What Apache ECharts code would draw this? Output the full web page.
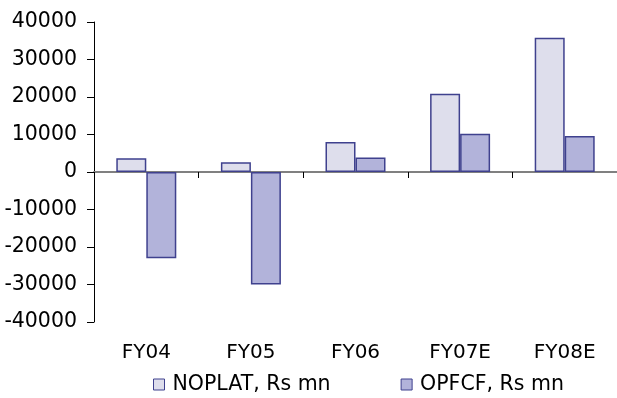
<!DOCTYPE html>
<html>
<head>
<meta charset="utf-8">
<script src="https://cdn.jsdelivr.net/npm/echarts@6/dist/echarts.min.js"></script>
<style>
  html, body { margin: 0; padding: 0; background: #ffffff; }
  #chart { width: 617px; height: 398px; }
</style>
</head>
<body>
<div id="chart"></div>
<script>
// Fiscal years shown on the category axis
const categories = ['FY04', 'FY05', 'FY06', 'FY07E', 'FY08E'];
// Net operating profit less adjusted taxes, Rs mn
const noplat = [3700, 2600, 8000, 20900, 35800];
// Operating free cash flow, Rs mn
const opfcf = [-23000, -30000, 3850, 10200, 9600];
// Value axis range and step
const yMin = -40000;
const yMax = 40000;
const yStep = 10000;

const FONT = '"DejaVu Sans", "Liberation Sans", Arial, sans-serif';
const BORDER = '#3f418e';

const chart = echarts.init(document.getElementById('chart'), null, { renderer: 'canvas' });

chart.setOption({
  animation: false,
  backgroundColor: '#ffffff',
  textStyle: { fontFamily: FONT },
  grid: { left: 94, right: 0, top: 22, bottom: 76, containLabel: false },
  legend: {
    top: 374,
    left: 153,
    padding: 0,
    itemWidth: 11,
    itemHeight: 11,
    itemGap: 70,
    icon: 'rect',
    textStyle: { fontFamily: FONT, fontSize: 20.5, color: '#000000', padding: [0, 0, 0, 3] },
    data: [
      { name: 'NOPLAT, Rs mn', itemStyle: { color: '#dedeec', borderColor: BORDER, borderWidth: 1 } },
      { name: 'OPFCF, Rs mn', itemStyle: { color: '#b2b3da', borderColor: BORDER, borderWidth: 1 } }
    ]
  },
  xAxis: [
    {
      // axis drawn along the zero line, with boundary ticks
      type: 'category',
      data: categories,
      position: 'bottom',
      axisLine: { onZero: true, lineStyle: { color: '#808080', width: 2 } },
      axisTick: { show: true, length: 6, lineStyle: { color: '#000000', width: 1 } },
      axisLabel: { show: false },
      splitLine: { show: false }
    },
    {
      // category names along the bottom of the plot
      type: 'category',
      data: categories,
      position: 'bottom',
      axisLine: { show: false, onZero: false },
      axisTick: { show: false },
      axisLabel: { show: true, margin: 21, fontFamily: FONT, fontSize: 20, color: '#000000' },
      splitLine: { show: false }
    }
  ],
  yAxis: {
    type: 'value',
    min: yMin,
    max: yMax,
    interval: yStep,
    axisLine: { show: true, lineStyle: { color: '#000000', width: 1 } },
    axisTick: { show: true, length: 7, lineStyle: { color: '#000000', width: 1 } },
    axisLabel: {
      margin: 17,
      fontFamily: FONT,
      fontSize: 20.5,
      color: '#000000',
      formatter: (v) => String(v)
    },
    splitLine: { show: false }
  },
  series: [
    {
      name: 'NOPLAT, Rs mn',
      type: 'bar',
      xAxisIndex: 0,
      data: noplat,
      barWidth: 30,
      barGap: '0%',
      itemStyle: { color: '#dedeec', borderColor: BORDER, borderWidth: 1.5 }
    },
    {
      name: 'OPFCF, Rs mn',
      type: 'bar',
      xAxisIndex: 0,
      data: opfcf,
      barWidth: 30,
      barGap: '0%',
      itemStyle: { color: '#b2b3da', borderColor: BORDER, borderWidth: 1.5 }
    }
  ]
});
</script>
</body>
</html>
